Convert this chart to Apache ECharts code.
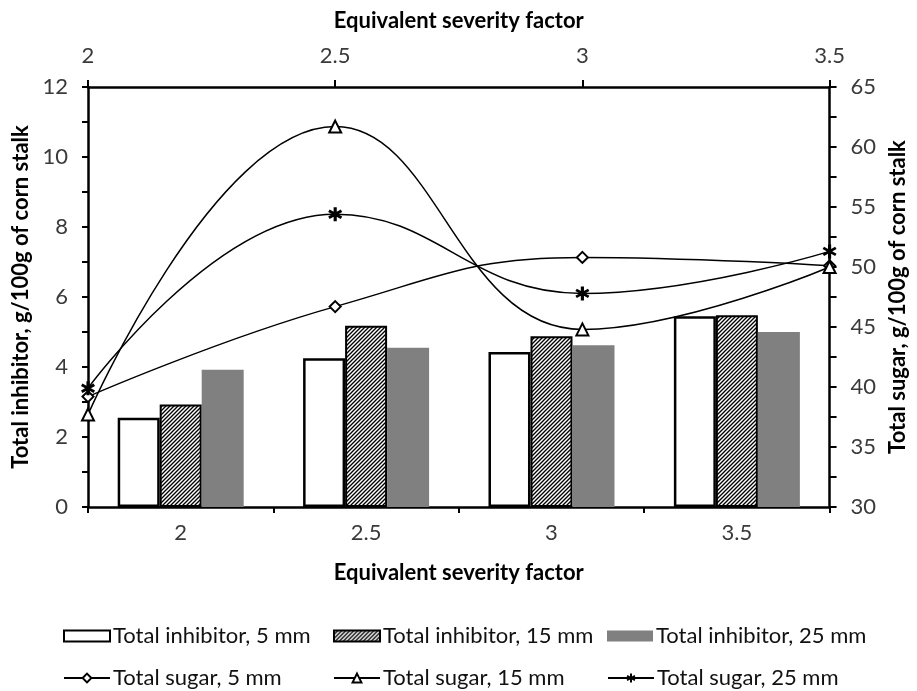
<!DOCTYPE html>
<html>
<head>
<meta charset="utf-8">
<script src="https://cdn.jsdelivr.net/npm/echarts@6/dist/echarts.min.js"></script>
<style>
  html, body { margin: 0; padding: 0; background: #fff; }
  #chart { width: 917px; height: 691px; }
</style>
</head>
<body>
<div id="chart"></div>
<script>
// categories / x values
const categories = ['2', '2.5', '3', '3.5'];
const severity = [2, 2.5, 3, 3.5];

// total inhibitor, g/100g (bars, left axis)
const inhib5 = [2.55, 4.25, 4.43, 5.45];
const inhib15 = [2.93, 5.18, 4.88, 5.48];
const inhib25 = [3.92, 4.55, 4.62, 5.0];

// total sugar, g/100g (lines, right axis)
const sugar5 = [39.2, 46.7, 50.8, 50.1];
const sugar15 = [37.7, 61.7, 44.8, 50.0];
const sugar25 = [39.9, 54.4, 47.8, 51.3];

const font = 'Lato, "Open Sans", sans-serif';
const labelColor = '#3a3a3a';

// hatch pattern for 15 mm bars
function hatch() {
  const c = document.createElement('canvas');
  c.width = 4; c.height = 4;
  const ctx = c.getContext('2d');
  ctx.fillStyle = '#fff';
  ctx.fillRect(0, 0, 4, 4);
  ctx.strokeStyle = '#000';
  ctx.lineWidth = 1.35;
  ctx.beginPath();
  ctx.moveTo(-1, 5); ctx.lineTo(5, -1);
  ctx.moveTo(-1, 1); ctx.lineTo(1, -1);
  ctx.moveTo(3, 5); ctx.lineTo(5, 3);
  ctx.stroke();
  return c;
}

// asterisk marker
const star = 'path://M-1.3 -6 L1.3 -6 L1.3 6 L-1.3 6 Z' +
  ' M-5.8 -1.96 L-4.6 -4.04 L5.8 1.96 L4.6 4.04 Z' +
  ' M-4.6 4.04 L-5.8 1.96 L4.6 -4.04 L5.8 -1.96 Z';

const pairs = vals => severity.map((x, i) => [x, vals[i]]);

const axisLine = { show: true, lineStyle: { color: '#000', width: 2.5 } };
const axisLabel = { color: labelColor, fontSize: 22, fontFamily: font };
const nameStyle = { color: '#000', fontSize: 22, fontWeight: 'bold', fontFamily: font };
const tickStyle = { color: '#000', width: 2 };

function lineSeries(name, data, symbol, size) {
  return {
    name,
    type: 'line',
    xAxisIndex: 1,
    yAxisIndex: 1,
    data: pairs(data),
    smooth: 0.45,
    symbol,
    symbolSize: size,
    z: 5,
    lineStyle: { color: '#000', width: 1.5 },
    itemStyle: { color: '#000', borderWidth: 1.5 },
  };
}

function legendAt(name, left, top, icon) {
  return {
    data: [icon ? { name, icon } : name],
    left, top,
    itemWidth: 46,
    itemHeight: 11,
    itemGap: 0,
    padding: 0,
    textStyle: { color: '#111', fontSize: 22, fontFamily: font, padding: [0, 0, 0, -2] },
  };
}

const option = {
  backgroundColor: '#fff',
  animation: false,
  grid: { left: 88, right: 81, top: 87, bottom: 184, containLabel: false },
  legend: [
    legendAt('Total inhibitor, 5 mm', 63, 625, 'rect'),
    legendAt('Total inhibitor, 15 mm', 333, 625, 'rect'),
    legendAt('Total inhibitor, 25 mm', 607, 625, 'rect'),
    legendAt('Total sugar, 5 mm', 63, 667),
    legendAt('Total sugar, 15 mm', 333, 667),
    legendAt('Total sugar, 25 mm', 607, 667),
  ],
  xAxis: [
    {
      type: 'category',
      position: 'bottom',
      data: categories,
      name: 'Equivalent severity factor',
      nameLocation: 'middle',
      nameGap: 55,
      nameTextStyle: nameStyle,
      axisLine,
      axisTick: { show: true, inside: false, length: 6, lineStyle: tickStyle },
      axisLabel: { ...axisLabel, margin: 15 },
      splitLine: { show: false },
    },
    {
      type: 'value',
      position: 'top',
      min: 2,
      max: 3.5,
      interval: 0.5,
      name: 'Equivalent severity factor',
      nameLocation: 'middle',
      nameGap: 55,
      nameTextStyle: nameStyle,
      axisLine,
      axisTick: { show: true, inside: false, length: 7, lineStyle: tickStyle },
      axisLabel: { ...axisLabel, margin: 20 },
      splitLine: { show: false },
    },
  ],
  yAxis: [
    {
      type: 'value',
      position: 'left',
      min: 0,
      max: 12,
      interval: 2,
      name: 'Total inhibitor, g/100g of corn stalk',
      nameLocation: 'middle',
      nameRotate: 90,
      nameGap: 56,
      nameTextStyle: nameStyle,
      axisLine,
      axisTick: { show: true, inside: false, length: 6, lineStyle: tickStyle },
      minorTick: { show: true, splitNumber: 2, length: 6, lineStyle: tickStyle },
      axisLabel: { ...axisLabel, margin: 20 },
      splitLine: { show: false },
    },
    {
      type: 'value',
      position: 'right',
      min: 30,
      max: 65,
      interval: 5,
      name: 'Total sugar, g/100g of corn stalk',
      nameLocation: 'middle',
      nameRotate: 90,
      nameGap: 55,
      nameTextStyle: nameStyle,
      axisLine,
      axisTick: { show: true, inside: false, length: 7, lineStyle: tickStyle },
      minorTick: { show: true, splitNumber: 2, length: 7, lineStyle: tickStyle },
      axisLabel: { ...axisLabel, margin: 21 },
      splitLine: { show: false },
    },
  ],
  series: [
    {
      name: 'Total inhibitor, 5 mm',
      type: 'bar',
      data: inhib5,
      barWidth: 42,
      barGap: '0%',
      itemStyle: { color: '#fff', borderColor: '#000', borderWidth: 2.5 },
    },
    {
      name: 'Total inhibitor, 15 mm',
      type: 'bar',
      data: inhib15,
      barWidth: 42,
      barGap: '0%',
      itemStyle: { color: { image: hatch(), repeat: 'repeat' }, borderColor: '#000', borderWidth: 2 },
    },
    {
      name: 'Total inhibitor, 25 mm',
      type: 'bar',
      data: inhib25,
      barWidth: 42,
      barGap: '0%',
      itemStyle: { color: '#808080' },
    },
    lineSeries('Total sugar, 5 mm', sugar5, 'emptyDiamond', 11),
    lineSeries('Total sugar, 15 mm', sugar15, 'emptyTriangle', 12),
    lineSeries('Total sugar, 25 mm', sugar25, star, 14),
  ],
};

const myChart = echarts.init(document.getElementById('chart'));
myChart.setOption(option);
</script>
</body>
</html>
